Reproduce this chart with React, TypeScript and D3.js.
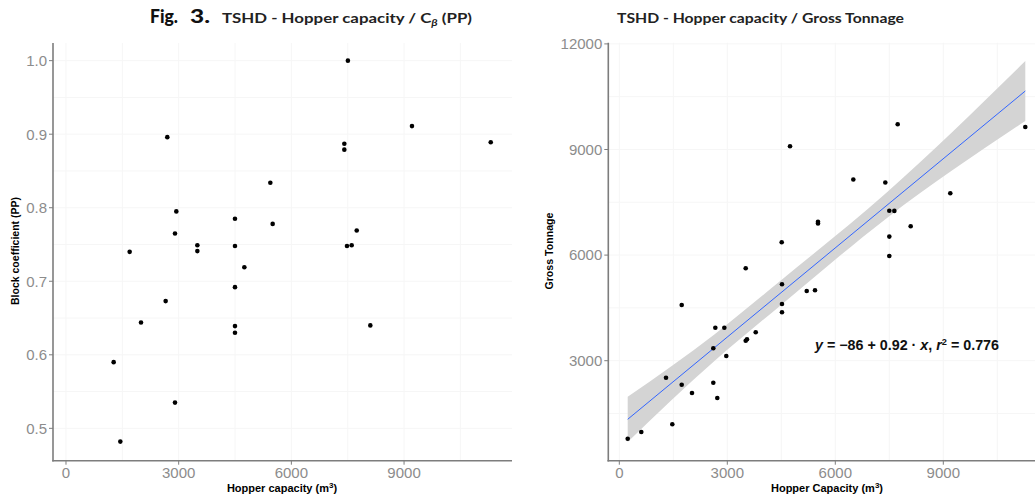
import React from 'react'
import * as d3 from 'd3'

// left panel: hopper capacity vs block coefficient
const cbHopper = [1269, 1446, 1695, 1997, 2653, 2697, 2902, 2937, 2902, 3497, 3497, 4499, 4499, 4499, 4499, 4499, 4748, 5440, 5502, 7410, 7410, 7505, 7481, 7606, 7740, 8102, 9211, 11308]
const cbValue = [0.590, 0.482, 0.740, 0.644, 0.673, 0.896, 0.765, 0.795, 0.535, 0.749, 0.741, 0.785, 0.748, 0.692, 0.639, 0.630, 0.719, 0.834, 0.778, 0.887, 0.879, 1.000, 0.748, 0.749, 0.769, 0.640, 0.911, 0.889]

// right panel: hopper capacity vs gross tonnage
const gtHopper = [233, 611, 1472, 1297, 1733, 2019, 1733, 2611, 2722, 2611, 2667, 2917, 2972, 3511, 3547, 3789, 3511, 4519, 4519, 4519, 4511, 5206, 5436, 7500, 4742, 7733, 11278, 6500, 7389, 9194, 7500, 7640, 5519, 5519, 8094, 7500]
const gtValue = [784, 974, 1193, 2517, 2318, 2082, 4582, 2375, 1940, 3352, 3938, 3938, 3134, 3568, 3608, 3807, 5625, 5170, 4611, 4375, 6366, 4980, 5000, 5974, 9091, 9716, 9639, 8148, 8063, 7756, 7261, 7255, 6946, 6900, 6818, 6525]

// fitted line and confidence band
const fitX = [233, 11278]
const fitY = [1335, 10662]
const bandX = [233, 2658, 4511, 7428, 11278]
const bandLow = [693, 3005, 4600, 7050, 9810]
const bandHigh = [1977, 3761, 5300, 7780, 11514]

const leftXTicks = [0, 3000, 6000, 9000]
const leftXMinor = [1500, 4500, 7500, 10500]
const leftYTicks = [0.5, 0.6, 0.7, 0.8, 0.9, 1.0]
const leftYMinor = [0.55, 0.65, 0.75, 0.85, 0.95]
const rightXTicks = [0, 3000, 6000, 9000]
const rightXMinor = [1500, 4500, 7500, 10500]
const rightYTicks = [3000, 6000, 9000, 12000]
const rightYMinor = [1500, 4500, 7500, 10500]

const axisColor = '#7d7d7d'
const tickColor = '#8c8c8c'
const gridColor = '#f6f6f6'
const numFont = '"Liberation Sans", Arial, sans-serif'
const titleFont = 'Lato, "Open Sans", sans-serif'

function Frame({x, y, xTicks, xMinor, yTicks, yMinor, yFmt, xRight}) {
    const [x0] = x.range()
    const [yb, yt] = y.range()
    return (
        <g>
            {[...xMinor, ...xTicks].map((t, i) => (
                <line key={'gx' + i} x1={x(t)} x2={x(t)} y1={yt} y2={yb} stroke={gridColor} strokeWidth={1} />
            ))}
            {[...yMinor, ...yTicks].map((t, i) => (
                <line key={'gy' + i} x1={x0} x2={xRight} y1={y(t)} y2={y(t)} stroke={gridColor} strokeWidth={1} />
            ))}
            <line x1={x0} x2={x0} y1={yt} y2={yb + 0.8} stroke={axisColor} strokeWidth={1.6} />
            <line x1={x0 - 0.8} x2={xRight} y1={yb} y2={yb} stroke={axisColor} strokeWidth={1.6} />
            {yTicks.map(t => (
                <g key={'yt' + t}>
                    <line x1={x0 - 4} x2={x0} y1={y(t)} y2={y(t)} stroke={axisColor} strokeWidth={1} />
                    <text x={x0 - 6} y={y(t)} dy="0.36em" textAnchor="end" fontSize={15} fill={tickColor} fontFamily={numFont}>{yFmt(t)}</text>
                </g>
            ))}
            {xTicks.map(t => (
                <g key={'xt' + t}>
                    <line x1={x(t)} x2={x(t)} y1={yb} y2={yb + 4} stroke={axisColor} strokeWidth={1} />
                    <text x={x(t)} y={478} textAnchor="middle" fontSize={15} fill={tickColor} fontFamily={numFont}>{t}</text>
                </g>
            ))}
        </g>
    )
}

export default function App() {
    // left panel scales
    const lx = d3.scaleLinear().domain([-346, 11874]).range([53, 512])
    const ly = d3.scaleLinear().domain([0.456, 1.024]).range([460.7, 43])
    // right panel scales
    const rx = d3.scaleLinear().domain([-306, 11900]).range([608.3, 1047.7])
    const ry = d3.scaleLinear().domain([159, 12034]).range([460.7, 42.7])

    const band = d3.area()
        .x(i => rx(bandX[i]))
        .y0(i => ry(bandLow[i]))
        .y1(i => ry(bandHigh[i]))
        .curve(d3.curveMonotoneX)
    const fit = d3.line().x(i => rx(fitX[i])).y(i => ry(fitY[i]))

    return (
        <div style={{position: 'absolute', left: 0, top: 0}}>
            <svg width={1035} height={502} style={{display: 'block', background: '#fff'}}>
                <text x={150} y={23} fontFamily={titleFont} fontWeight={900} fontSize={19} fill="#111" textLength={28} lengthAdjust="spacingAndGlyphs">Fig.</text>
                <text x={190} y={23} fontFamily={titleFont} fontWeight={900} fontSize={19} fill="#111" textLength={20} lengthAdjust="spacingAndGlyphs">3.</text>
                <text x={222} y={23} fontFamily={titleFont} fontWeight={700} fontSize={14} fill="#222" textLength={250} lengthAdjust="spacingAndGlyphs">
                    TSHD - Hopper capacity / C<tspan dy={3} fontSize={10} fontStyle="italic">β</tspan><tspan dy={-3}> (PP)</tspan>
                </text>
                <text x={617} y={23} fontFamily={titleFont} fontWeight={700} fontSize={14} fill="#222" textLength={287} lengthAdjust="spacingAndGlyphs">TSHD - Hopper capacity / Gross Tonnage</text>

                {/* left panel */}
                <Frame x={lx} y={ly} xTicks={leftXTicks} xMinor={leftXMinor} yTicks={leftYTicks} yMinor={leftYMinor} yFmt={d3.format('.1f')} xRight={512} />
                {cbHopper.map((h, i) => (
                    <circle key={'l' + i} cx={lx(h)} cy={ly(cbValue[i])} r={2.3} fill="#000" />
                ))}
                <text transform={`translate(19, 251) rotate(-90)`} textAnchor="middle" fontSize={11} fontWeight={700} fontFamily={numFont} fill="#000" textLength={108} lengthAdjust="spacingAndGlyphs">Block coefficient (PP)</text>
                <text x={282} y={492} textAnchor="middle" fontSize={11} fontWeight={700} fontFamily={numFont} fill="#000">
                    Hopper capacity (m<tspan dy={-4} fontSize={8}>3</tspan><tspan dy={4}>)</tspan>
                </text>

                {/* right panel */}
                <Frame x={rx} y={ry} xTicks={rightXTicks} xMinor={rightXMinor} yTicks={rightYTicks} yMinor={rightYMinor} yFmt={d3.format('d')} xRight={1047} />
                <path d={band(d3.range(bandX.length))} fill="#d4d4d4" />
                <path d={fit(d3.range(fitX.length))} fill="none" stroke="#3366ff" strokeWidth={1} />
                {gtHopper.map((h, i) => (
                    <circle key={'r' + i} cx={rx(h)} cy={ry(gtValue[i])} r={2.3} fill="#000" />
                ))}
                <text x={815} y={350} fontSize={14} fontWeight={700} fontFamily={numFont} fill="#111" textLength={184} lengthAdjust="spacingAndGlyphs">
                    <tspan fontStyle="italic">y</tspan> = −86 + 0.92 · <tspan fontStyle="italic">x</tspan>,  <tspan fontStyle="italic">r</tspan><tspan dy={-5} fontSize={9}>2</tspan><tspan dy={5}> = 0.776</tspan>
                </text>
                <text transform={`translate(553, 251) rotate(-90)`} textAnchor="middle" fontSize={11} fontWeight={700} fontFamily={numFont} fill="#000" textLength={77} lengthAdjust="spacingAndGlyphs">Gross Tonnage</text>
                <text x={827} y={492} textAnchor="middle" fontSize={11} fontWeight={700} fontFamily={numFont} fill="#000">
                    Hopper Capacity (m<tspan dy={-4} fontSize={8}>3</tspan><tspan dy={4}>)</tspan>
                </text>
            </svg>
        </div>
    )
}
